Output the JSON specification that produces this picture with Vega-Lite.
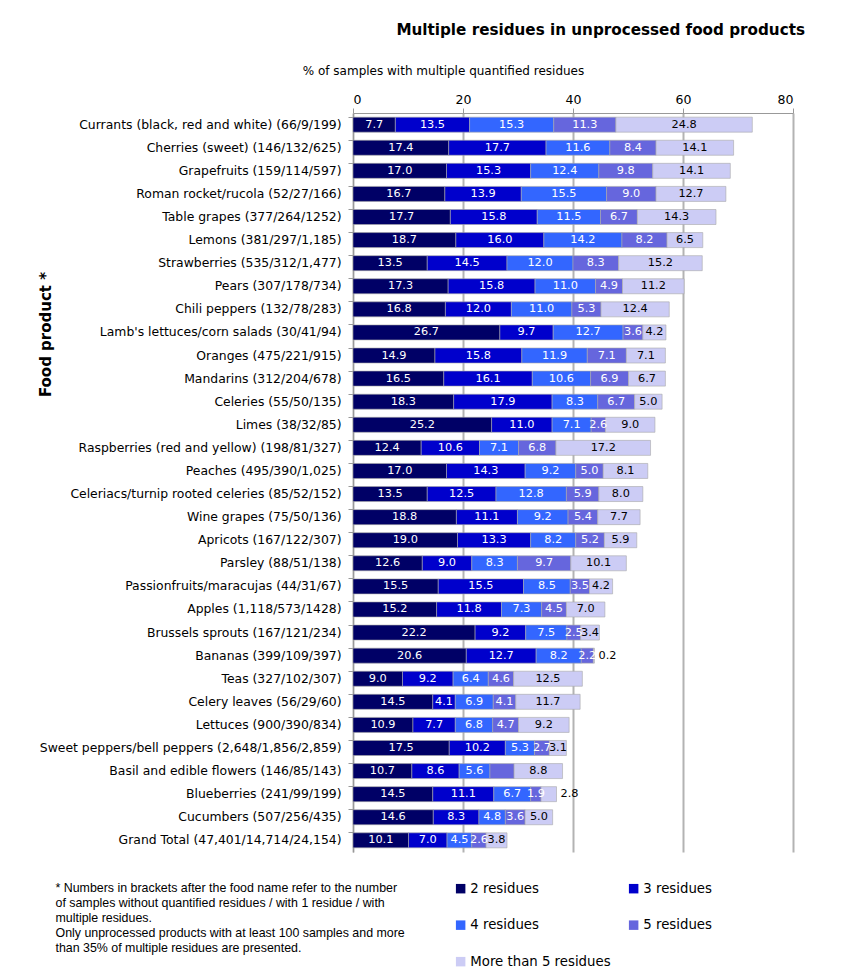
{
  "$schema": "https://vega.github.io/schema/vega-lite/v6.json",
  "width": 440,
  "height": 739,
  "autosize": {"type": "none"},
  "padding": {"left": 353, "top": 113, "right": 66, "bottom": 120},
  "background": "white",
  "config": {"font": "DejaVu Sans", "view": {"stroke": null}},
  "title": {"text": "Multiple residues in unprocessed food products", "anchor": "end", "frame": "group", "fontSize": 15.2, "fontWeight": "bold", "color": "black", "dx": 12, "offset": 26},
  "data": {"values": [
    {"product": "Currants (black, red and white) (66/9/199)", "2 residues": 7.7, "3 residues": 13.5, "4 residues": 15.3, "5 residues": 11.3, "More than 5 residues": 24.8},
    {"product": "Cherries (sweet) (146/132/625)", "2 residues": 17.4, "3 residues": 17.7, "4 residues": 11.6, "5 residues": 8.4, "More than 5 residues": 14.1},
    {"product": "Grapefruits (159/114/597)", "2 residues": 17.0, "3 residues": 15.3, "4 residues": 12.4, "5 residues": 9.8, "More than 5 residues": 14.1},
    {"product": "Roman rocket/rucola (52/27/166)", "2 residues": 16.7, "3 residues": 13.9, "4 residues": 15.5, "5 residues": 9.0, "More than 5 residues": 12.7},
    {"product": "Table grapes (377/264/1252)", "2 residues": 17.7, "3 residues": 15.8, "4 residues": 11.5, "5 residues": 6.7, "More than 5 residues": 14.3},
    {"product": "Lemons (381/297/1,185)", "2 residues": 18.7, "3 residues": 16.0, "4 residues": 14.2, "5 residues": 8.2, "More than 5 residues": 6.5},
    {"product": "Strawberries (535/312/1,477)", "2 residues": 13.5, "3 residues": 14.5, "4 residues": 12.0, "5 residues": 8.3, "More than 5 residues": 15.2},
    {"product": "Pears (307/178/734)", "2 residues": 17.3, "3 residues": 15.8, "4 residues": 11.0, "5 residues": 4.9, "More than 5 residues": 11.2},
    {"product": "Chili peppers (132/78/283)", "2 residues": 16.8, "3 residues": 12.0, "4 residues": 11.0, "5 residues": 5.3, "More than 5 residues": 12.4},
    {"product": "Lamb's lettuces/corn salads (30/41/94)", "2 residues": 26.7, "3 residues": 9.7, "4 residues": 12.7, "5 residues": 3.6, "More than 5 residues": 4.2},
    {"product": "Oranges (475/221/915)", "2 residues": 14.9, "3 residues": 15.8, "4 residues": 11.9, "5 residues": 7.1, "More than 5 residues": 7.1},
    {"product": "Mandarins (312/204/678)", "2 residues": 16.5, "3 residues": 16.1, "4 residues": 10.6, "5 residues": 6.9, "More than 5 residues": 6.7},
    {"product": "Celeries (55/50/135)", "2 residues": 18.3, "3 residues": 17.9, "4 residues": 8.3, "5 residues": 6.7, "More than 5 residues": 5.0},
    {"product": "Limes (38/32/85)", "2 residues": 25.2, "3 residues": 11.0, "4 residues": 7.1, "5 residues": 2.6, "More than 5 residues": 9.0},
    {"product": "Raspberries (red and yellow) (198/81/327)", "2 residues": 12.4, "3 residues": 10.6, "4 residues": 7.1, "5 residues": 6.8, "More than 5 residues": 17.2},
    {"product": "Peaches (495/390/1,025)", "2 residues": 17.0, "3 residues": 14.3, "4 residues": 9.2, "5 residues": 5.0, "More than 5 residues": 8.1},
    {"product": "Celeriacs/turnip rooted celeries (85/52/152)", "2 residues": 13.5, "3 residues": 12.5, "4 residues": 12.8, "5 residues": 5.9, "More than 5 residues": 8.0},
    {"product": "Wine grapes (75/50/136)", "2 residues": 18.8, "3 residues": 11.1, "4 residues": 9.2, "5 residues": 5.4, "More than 5 residues": 7.7},
    {"product": "Apricots (167/122/307)", "2 residues": 19.0, "3 residues": 13.3, "4 residues": 8.2, "5 residues": 5.2, "More than 5 residues": 5.9},
    {"product": "Parsley (88/51/138)", "2 residues": 12.6, "3 residues": 9.0, "4 residues": 8.3, "5 residues": 9.7, "More than 5 residues": 10.1},
    {"product": "Passionfruits/maracujas (44/31/67)", "2 residues": 15.5, "3 residues": 15.5, "4 residues": 8.5, "5 residues": 3.5, "More than 5 residues": 4.2},
    {"product": "Apples (1,118/573/1428)", "2 residues": 15.2, "3 residues": 11.8, "4 residues": 7.3, "5 residues": 4.5, "More than 5 residues": 7.0},
    {"product": "Brussels sprouts (167/121/234)", "2 residues": 22.2, "3 residues": 9.2, "4 residues": 7.5, "5 residues": 2.5, "More than 5 residues": 3.4},
    {"product": "Bananas (399/109/397)", "2 residues": 20.6, "3 residues": 12.7, "4 residues": 8.2, "5 residues": 2.2, "More than 5 residues": 0.2},
    {"product": "Teas (327/102/307)", "2 residues": 9.0, "3 residues": 9.2, "4 residues": 6.4, "5 residues": 4.6, "More than 5 residues": 12.5},
    {"product": "Celery leaves (56/29/60)", "2 residues": 14.5, "3 residues": 4.1, "4 residues": 6.9, "5 residues": 4.1, "More than 5 residues": 11.7},
    {"product": "Lettuces (900/390/834)", "2 residues": 10.9, "3 residues": 7.7, "4 residues": 6.8, "5 residues": 4.7, "More than 5 residues": 9.2},
    {"product": "Sweet peppers/bell peppers (2,648/1,856/2,859)", "2 residues": 17.5, "3 residues": 10.2, "4 residues": 5.3, "5 residues": 2.7, "More than 5 residues": 3.1},
    {"product": "Basil and edible flowers (146/85/143)", "2 residues": 10.7, "3 residues": 8.6, "4 residues": 5.6, "5 residues": 4.4, "More than 5 residues": 8.8, "nolabel": "5 residues"},
    {"product": "Blueberries (241/99/199)", "2 residues": 14.5, "3 residues": 11.1, "4 residues": 6.7, "5 residues": 1.9, "More than 5 residues": 2.8},
    {"product": "Cucumbers (507/256/435)", "2 residues": 14.6, "3 residues": 8.3, "4 residues": 4.8, "5 residues": 3.6, "More than 5 residues": 5.0},
    {"product": "Grand Total (47,401/14,714/24,154)", "2 residues": 10.1, "3 residues": 7.0, "4 residues": 4.5, "5 residues": 2.6, "More than 5 residues": 3.8}
  ]},
  "transform": [
    {"fold": ["2 residues", "3 residues", "4 residues", "5 residues", "More than 5 residues"], "as": ["residues", "value"]}
  ],
  "encoding": {
    "y": {
      "field": "product", "type": "nominal", "sort": null,
      "scale": {"paddingInner": 0.35, "paddingOuter": 0.18},
      "axis": {
        "orient": "left", "bandPosition": 0, "tickSize": 5, "tickColor": "#999999", "domainColor": "#999999",
        "labelPadding": 7, "labelFontSize": 12.4, "labelColor": "black", "labelLimit": 400,
        "title": "Food product *", "titleFontSize": 15, "titleFontWeight": "bold", "titleColor": "black",
        "titleX": -308, "titleY": 221, "titleAlign": "center", "titleBaseline": "middle", "titleAngle": -90
      }
    }
  },
  "layer": [
    {
      "mark": {"type": "bar", "stroke": "#a8a8a8", "strokeWidth": 0.6},
      "encoding": {
        "x": {
          "field": "value", "type": "quantitative", "stack": "zero",
          "scale": {"domain": [0, 80], "nice": false},
          "axis": {
            "orient": "top", "values": [0, 20, 40, 60, 80], "grid": true, "gridColor": "#b3b3b3", "gridWidth": 2,
            "domainColor": "#999999", "tickColor": "#999999", "tickSize": 5, "labelFontSize": 12.5, "labelColor": "black",
            "labelPadding": 2, "title": "% of samples with multiple quantified residues", "titleFontSize": 12,
            "titleFontWeight": "normal", "titleColor": "black", "titleX": 90, "titleY": -43, "titleAlign": "center", "titleBaseline": "middle"
          }
        },
        "color": {
          "field": "residues", "type": "nominal",
          "scale": {"domain": ["2 residues", "3 residues", "4 residues", "5 residues", "More than 5 residues"], "range": ["#000066", "#0000CC", "#3366FF", "#6666DD", "#CCCCF5"]},
          "legend": {
            "orient": "none", "legendX": 101, "legendY": 769, "columns": 2, "direction": "horizontal", "title": null,
            "symbolType": "square", "symbolSize": 90, "symbolStrokeWidth": 0, "labelFontSize": 13.3, "labelColor": "black",
            "rowPadding": 22.5, "columnPadding": 16, "labelOffset": 3
          }
        },
        "order": {"field": "residues"}
      }
    },
    {
      "mark": {"type": "text", "fontSize": 11.3},
      "encoding": {
        "x": {"field": "value", "type": "quantitative", "stack": "zero", "bandPosition": 0.5, "axis": null},
        "detail": {"field": "residues"},
        "order": {"field": "residues"},
        "text": {
          "condition": {"test": "(datum.residues === 'More than 5 residues' && datum.value < 3) || datum.nolabel === datum.residues", "value": ""},
          "field": "value", "type": "quantitative", "format": ".1f"
        },
        "color": {"condition": {"test": "datum.residues === 'More than 5 residues'", "value": "black"}, "value": "white"}
      }
    },
    {
      "transform": [
        {"joinaggregate": [{"op": "sum", "field": "value", "as": "total"}], "groupby": ["product"]},
        {"filter": "datum.residues === 'More than 5 residues' && datum.value < 3"}
      ],
      "mark": {"type": "text", "align": "left", "dx": 4, "fontSize": 11.3, "color": "black"},
      "encoding": {
        "x": {
          "field": "total", "type": "quantitative",
          "axis": {
            "orient": "bottom", "labels": false, "ticks": false, "domain": false, "grid": false,
            "title": ["* Numbers in brackets after the food name refer to the number", "of samples without quantified residues / with 1 residue / with", "multiple residues.", "Only unprocessed products  with at least 100 samples and more", "than 35% of multiple residues are presented."],
            "titleFont": "Liberation Sans", "titleFontSize": 12.4, "titleFontWeight": "normal", "titleColor": "black",
            "titleAlign": "left", "titleX": -298, "titleY": 29, "titleBaseline": "top", "titleLineHeight": 15
          }
        },
        "text": {"field": "value", "type": "quantitative", "format": ".1f"}
      }
    }
  ],
  "resolve": {"axis": {"x": "independent"}}
}
